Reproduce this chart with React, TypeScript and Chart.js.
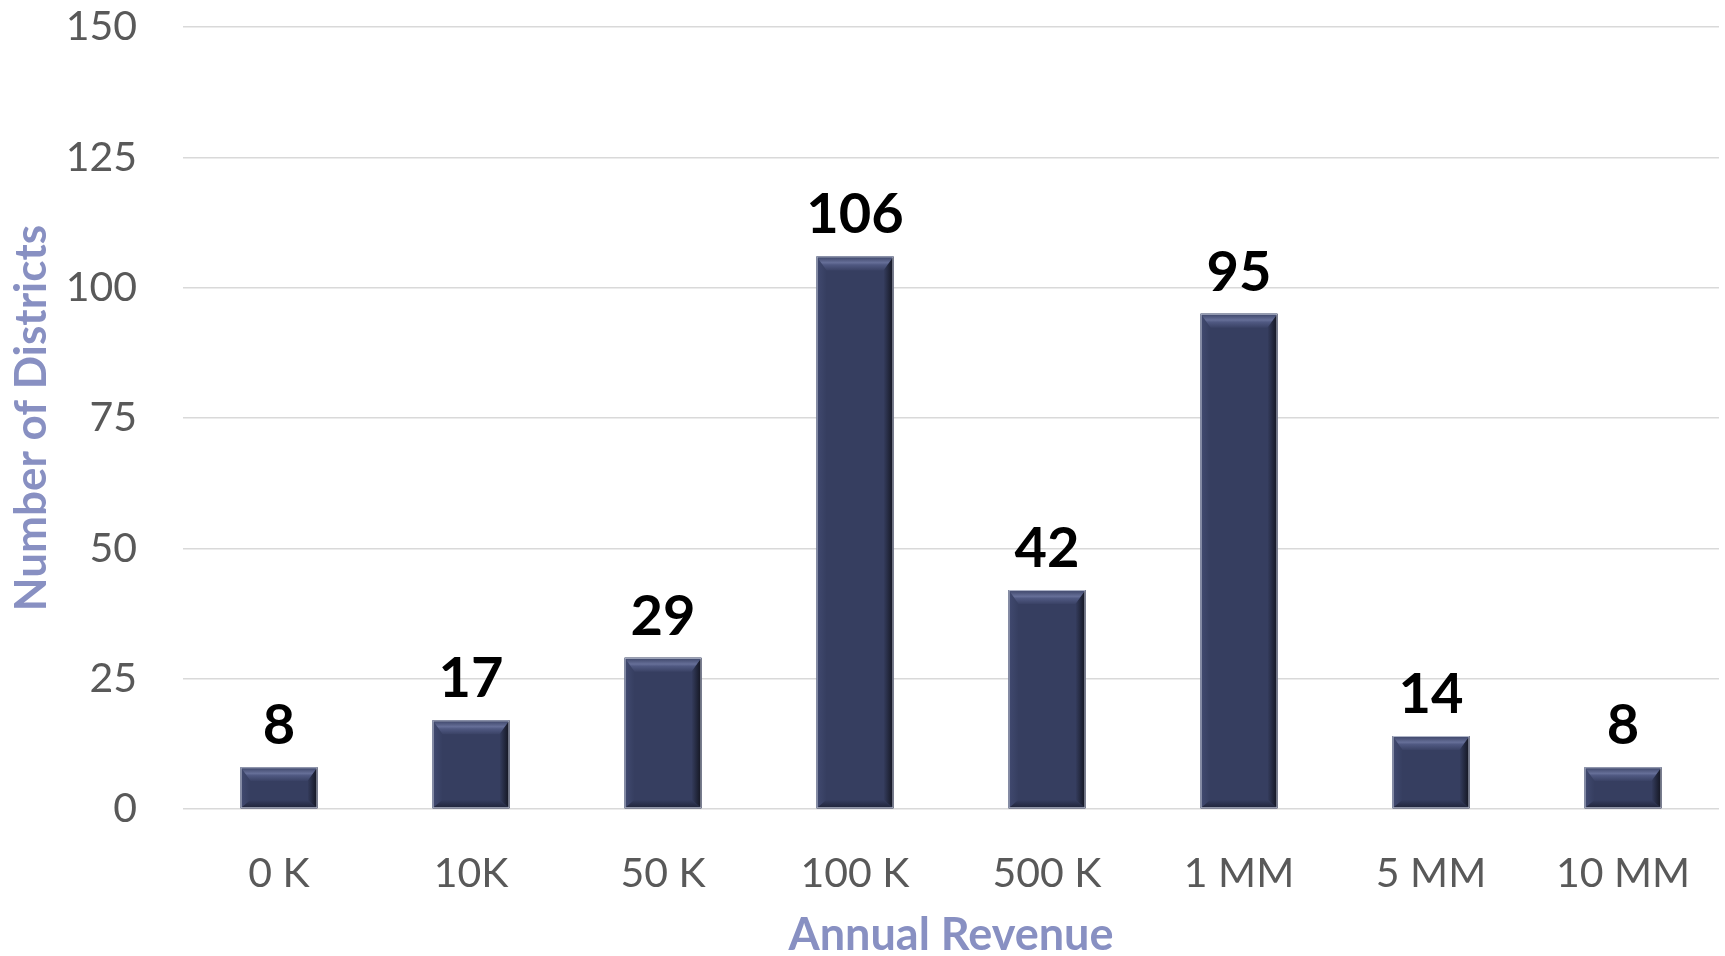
import React, { useEffect, useRef } from "react";
import { Chart, registerables } from "chart.js";

Chart.register(...registerables);

const categories = ["0 K", "10K", "50 K", "100 K", "500 K", "1 MM", "5 MM", "10 MM"];
const districts = [8, 17, 29, 106, 42, 95, 14, 8];
const yTicks = [0, 25, 50, 75, 100, 125, 150];

const FONT = "Lato, 'Open Sans', sans-serif";
const TITLE_COLOR = "#8890C2";
const FACE = "#363E60";

const bevelPlugin = {
  id: "bevel",
  afterDatasetsDraw(chart: any) {
    const ctx = chart.ctx;
    const meta = chart.getDatasetMeta(0);
    meta.data.forEach((bar: any) => {
      const w = bar.width;
      const l = bar.x - w / 2;
      const r = bar.x + w / 2;
      const t = Math.min(bar.y, bar.base);
      const bot = Math.max(bar.y, bar.base);
      const h = bot - t;
      const b = Math.min(14, h / 3);
      const bs = Math.min(10, w / 4);
      ctx.save();
      ctx.fillStyle = FACE;
      ctx.fillRect(l, t, w, h);
      // left bevel
      let g = ctx.createLinearGradient(l, 0, l + bs, 0);
      g.addColorStop(0, "#414a70");
      g.addColorStop(1, FACE);
      ctx.fillStyle = g;
      ctx.beginPath();
      ctx.moveTo(l, t);
      ctx.lineTo(l + bs, t + b);
      ctx.lineTo(l + bs, bot - b * 0.6);
      ctx.lineTo(l, bot);
      ctx.closePath();
      ctx.fill();
      // right bevel
      g = ctx.createLinearGradient(r - bs, 0, r, 0);
      g.addColorStop(0, FACE);
      g.addColorStop(1, "#12141f");
      ctx.fillStyle = g;
      ctx.beginPath();
      ctx.moveTo(r, t);
      ctx.lineTo(r - bs, t + b);
      ctx.lineTo(r - bs, bot - b * 0.6);
      ctx.lineTo(r, bot);
      ctx.closePath();
      ctx.fill();
      // bottom bevel
      g = ctx.createLinearGradient(0, bot - b * 0.6, 0, bot);
      g.addColorStop(0, FACE);
      g.addColorStop(1, "#1f2338");
      ctx.fillStyle = g;
      ctx.beginPath();
      ctx.moveTo(l, bot);
      ctx.lineTo(r, bot);
      ctx.lineTo(r - bs, bot - b * 0.6);
      ctx.lineTo(l + bs, bot - b * 0.6);
      ctx.closePath();
      ctx.fill();
      // top bevel
      g = ctx.createLinearGradient(0, t, 0, t + b);
      g.addColorStop(0, "#3b4366");
      g.addColorStop(0.45, "#666f98");
      g.addColorStop(0.6, "#505982");
      g.addColorStop(1, "#3a4265");
      ctx.fillStyle = g;
      ctx.beginPath();
      ctx.moveTo(l, t);
      ctx.lineTo(r, t);
      ctx.lineTo(r - bs, t + b);
      ctx.lineTo(l + bs, t + b);
      ctx.closePath();
      ctx.fill();
      // outline
      ctx.strokeStyle = "rgba(190,195,212,0.9)";
      ctx.lineWidth = 1;
      ctx.strokeRect(l + 0.5, t + 0.5, w - 1, h - 1);
      ctx.restore();
    });
  },
};

const labelPlugin = {
  id: "valueLabels",
  afterDatasetsDraw(chart: any) {
    const ctx = chart.ctx;
    const meta = chart.getDatasetMeta(0);
    const data = chart.data.datasets[0].data;
    ctx.save();
    ctx.font = `bold 56px ${FONT}`;
    ctx.fillStyle = "#000000";
    ctx.textAlign = "center";
    ctx.textBaseline = "alphabetic";
    meta.data.forEach((bar: any, i: number) => {
      ctx.fillText(String(data[i]), bar.x, bar.y - 23);
    });
    ctx.restore();
  },
};

export default function App() {
  const ref = useRef<HTMLCanvasElement | null>(null);
  useEffect(() => {
    if (!ref.current) return;
    const chart = new Chart(ref.current, {
      type: "bar",
      data: {
        labels: categories,
        datasets: [
          {
            data: districts,
            backgroundColor: FACE,
            categoryPercentage: 1,
            barPercentage: 0.4,
          },
        ],
      },
      options: {
        responsive: false,
        animation: false,
        layout: { padding: { top: 27, right: 6, left: 0, bottom: 0 } },
        plugins: {
          legend: { display: false },
          tooltip: { enabled: false },
        },
        scales: {
          x: {
            grid: { display: false },
            border: { display: false },
            ticks: {
              color: "#595959",
              font: { family: FONT, size: 41 },
              padding: 32,
              maxRotation: 0,
            },
            title: {
              display: true,
              text: "Annual Revenue",
              color: TITLE_COLOR,
              font: { family: FONT, size: 45, weight: "bold", lineHeight: 0.92 },
              padding: { top: 0, bottom: 0 },
            },
            afterFit: (s: any) => {
              s.height = 147;
            },
          },
          y: {
            min: 0,
            max: 150,
            afterBuildTicks: (s: any) => {
              s.ticks = yTicks.map((v) => ({ value: v }));
            },
            grid: { color: "#d9d9d9", lineWidth: 1.6, drawTicks: false },
            border: { display: false },
            ticks: {
              color: "#595959",
              font: { family: FONT, size: 41 },
              padding: 46,
            },
            title: {
              display: true,
              text: "Number of Districts",
              color: TITLE_COLOR,
              font: { family: FONT, size: 44, weight: "bold", lineHeight: 1 },
              padding: { top: 10, bottom: 0 },
            },
            afterFit: (s: any) => {
              s.width = 183;
              s.paddingTop = 0;
              s.paddingBottom = 0;
            },
          },
        },
      },
      plugins: [bevelPlugin, labelPlugin],
    });
    return () => chart.destroy();
  }, []);
  return (
    <div style={{ position: "absolute", left: 0, top: 0, width: 1725, height: 956, background: "#ffffff" }}>
      <canvas ref={ref} width={1725} height={956} style={{ display: "block" }} />
    </div>
  );
}
